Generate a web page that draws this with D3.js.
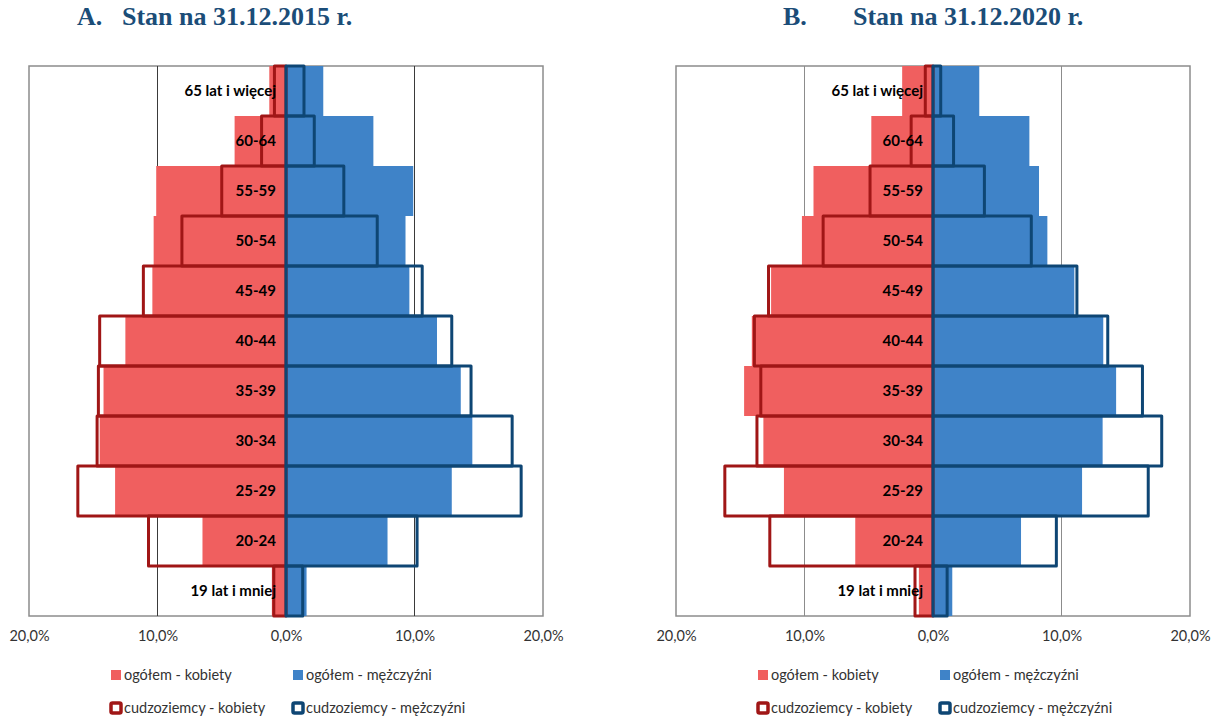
<!DOCTYPE html>
<html>
<head>
<meta charset="utf-8">
<script src="https://cdn.jsdelivr.net/npm/d3@7"></script>
<style>
  html, body { margin: 0; padding: 0; background: #fff; }
  svg { display: block; }
</style>
</head>
<body>
<svg id="chart" width="1215" height="717"></svg>
<script>
// ---------- DATA ----------
const categories = ["65 lat i więcej", "60-64", "55-59", "50-54", "45-49", "40-44",
                    "35-39", "30-34", "25-29", "20-24", "19 lat i mniej"];
const tickValues = [-20, -10, 0, 10, 20];

// Panel A: 31.12.2015 (% of each group)
const total2015Women   = [1.3, 4.0, 10.1, 10.3, 10.4, 12.5, 14.2, 14.5, 13.3, 6.5, 1.1];
const total2015Men     = [2.9, 6.8, 9.9, 9.3, 9.6, 11.75, 13.6, 14.5, 12.9, 7.9, 1.6];
const foreign2015Women = [0.9, 1.9, 5.0, 8.1, 11.1, 14.5, 14.6, 14.7, 16.2, 10.7, 0.95];
const foreign2015Men   = [1.4, 2.2, 4.5, 7.1, 10.6, 12.9, 14.4, 17.6, 18.3, 10.2, 1.3];

// Panel B: 31.12.2020
const total2020Women   = [2.4, 4.8, 9.3, 10.2, 12.6, 14.1, 14.7, 13.2, 11.6, 6.05, 1.1];
const total2020Men     = [3.6, 7.5, 8.25, 8.9, 11.0, 13.25, 14.25, 13.2, 11.6, 6.85, 1.5];
const foreign2020Women = [0.6, 1.7, 4.9, 8.55, 12.8, 13.9, 13.4, 13.7, 16.2, 12.7, 1.4];
const foreign2020Men   = [0.6, 1.6, 4.0, 7.65, 11.2, 13.6, 16.3, 17.8, 16.75, 9.6, 1.1];

const titleLetters = ["A.", "B."];
const titleTexts = ["Stan na 31.12.2015 r.", "Stan na 31.12.2020 r."];
const legendLabels = ["ogółem - kobiety", "ogółem - mężczyźni",
                      "cudzoziemcy - kobiety", "cudzoziemcy - mężczyźni"];

// ---------- STYLE ----------
const C_TOT_F = "#F05F5F", C_TOT_M = "#3F83C8", C_FOR_F = "#A01616", C_FOR_M = "#0E4674";
const TITLE_COLOR = "#1B4D78";
const LABEL_FONT = "Lato, 'Open Sans', sans-serif";

const svg = d3.select("#chart");

const panels = [
  { cx: 286, gridColor: "#3a3a3a", letterX: 77, textX: 122,
    tf: total2015Women, tm: total2015Men, ff: foreign2015Women, fm: foreign2015Men },
  { cx: 933, gridColor: "#8c8c8c", letterX: 783, textX: 853,
    tf: total2020Women, tm: total2020Men, ff: foreign2020Women, fm: foreign2020Men }
];

const TOP = 66, BOTTOM = 616, HALF = 257;

panels.forEach((p, i) => {
  const g = svg.append("g");
  const x = d3.scaleLinear().domain([-20, 20]).range([p.cx - HALF, p.cx + HALF]);
  const y = d3.scaleBand().domain(categories).range([TOP, BOTTOM]).padding(0);

  // title
  g.append("text").attr("x", p.letterX).attr("y", 25)
    .attr("font-family", "'Liberation Serif', 'Times New Roman', serif")
    .attr("font-weight", "bold").attr("font-size", 26).attr("fill", TITLE_COLOR)
    .text(titleLetters[i]);
  g.append("text").attr("x", p.textX).attr("y", 25)
    .attr("font-family", "'Liberation Serif', 'Times New Roman', serif")
    .attr("font-weight", "bold").attr("font-size", 26).attr("fill", TITLE_COLOR)
    .text(titleTexts[i]);

  // plot box
  g.append("rect").attr("x", x(-20)).attr("y", TOP)
    .attr("width", x(20) - x(-20)).attr("height", BOTTOM - TOP)
    .attr("fill", "#fff").attr("stroke", "#8c8c8c").attr("stroke-width", 1.5);

  // gridlines
  g.selectAll(".grid").data([-10, 10]).join("line")
    .attr("x1", d => x(d)).attr("x2", d => x(d))
    .attr("y1", TOP).attr("y2", BOTTOM)
    .attr("stroke", p.gridColor).attr("stroke-width", 1);

  const rows = categories.map((c, k) => ({
    cat: c, tf: p.tf[k], tm: p.tm[k], ff: p.ff[k], fm: p.fm[k]
  }));

  // total bars
  g.selectAll(".tf").data(rows).join("rect")
    .attr("x", d => x(-d.tf)).attr("y", d => y(d.cat))
    .attr("width", d => x(0) - x(-d.tf)).attr("height", y.bandwidth())
    .attr("fill", C_TOT_F);
  g.selectAll(".tm").data(rows).join("rect")
    .attr("x", x(0)).attr("y", d => y(d.cat))
    .attr("width", d => x(d.tm) - x(0)).attr("height", y.bandwidth())
    .attr("fill", C_TOT_M);

  // foreigners outlines
  g.selectAll(".ff").data(rows).join("rect")
    .attr("x", d => x(-d.ff)).attr("y", d => y(d.cat))
    .attr("width", d => x(0) - x(-d.ff)).attr("height", y.bandwidth())
    .attr("fill", "none").attr("stroke", C_FOR_F).attr("stroke-width", 3)
    .attr("stroke-linejoin", "round");
  g.selectAll(".fm").data(rows).join("rect")
    .attr("x", x(0)).attr("y", d => y(d.cat))
    .attr("width", d => x(d.fm) - x(0)).attr("height", y.bandwidth())
    .attr("fill", "none").attr("stroke", C_FOR_M).attr("stroke-width", 3)
    .attr("stroke-linejoin", "round");

  // category labels
  g.selectAll(".lab").data(categories).join("text")
    .attr("x", x(0) - 10).attr("y", d => y(d) + y.bandwidth() / 2)
    .attr("dy", "0.35em").attr("text-anchor", "end")
    .attr("font-family", LABEL_FONT).attr("font-weight", "bold")
    .attr("font-size", 15).attr("fill", "#000")
    .text(d => d);

  // x axis
  const axis = d3.axisBottom(x).tickValues(tickValues).tickSize(0).tickPadding(15)
    .tickFormat(d => Math.abs(d).toFixed(1).replace(".", ",") + "%");
  const ag = g.append("g").attr("transform", `translate(0,${BOTTOM})`).call(axis);
  ag.select(".domain").remove();
  ag.selectAll("text").attr("font-family", LABEL_FONT).attr("font-size", 14.5)
    .attr("fill", "#333");

  // legend
  const legend = [
    { dx: -176, y: 675, type: "fill", color: C_TOT_F, label: legendLabels[0] },
    { dx: 6,    y: 675, type: "fill", color: C_TOT_M, label: legendLabels[1] },
    { dx: -176, y: 708, type: "stroke", color: C_FOR_F, label: legendLabels[2] },
    { dx: 6,    y: 708, type: "stroke", color: C_FOR_M, label: legendLabels[3] }
  ];
  legend.forEach(l => {
    if (l.type === "fill") {
      g.append("rect").attr("x", p.cx + l.dx + 1).attr("y", l.y - 5)
        .attr("width", 10).attr("height", 10).attr("fill", l.color);
    } else {
      g.append("rect").attr("x", p.cx + l.dx + 1).attr("y", l.y - 5)
        .attr("width", 10).attr("height", 10).attr("rx", 1.5)
        .attr("fill", "#fff").attr("stroke", l.color).attr("stroke-width", 3.5);
    }
    g.append("text").attr("x", p.cx + l.dx + 14).attr("y", l.y)
      .attr("dy", "0.35em").attr("font-family", LABEL_FONT).attr("font-size", 14.5)
      .attr("fill", "#333").text(l.label);
  });
});
</script>
</body>
</html>
